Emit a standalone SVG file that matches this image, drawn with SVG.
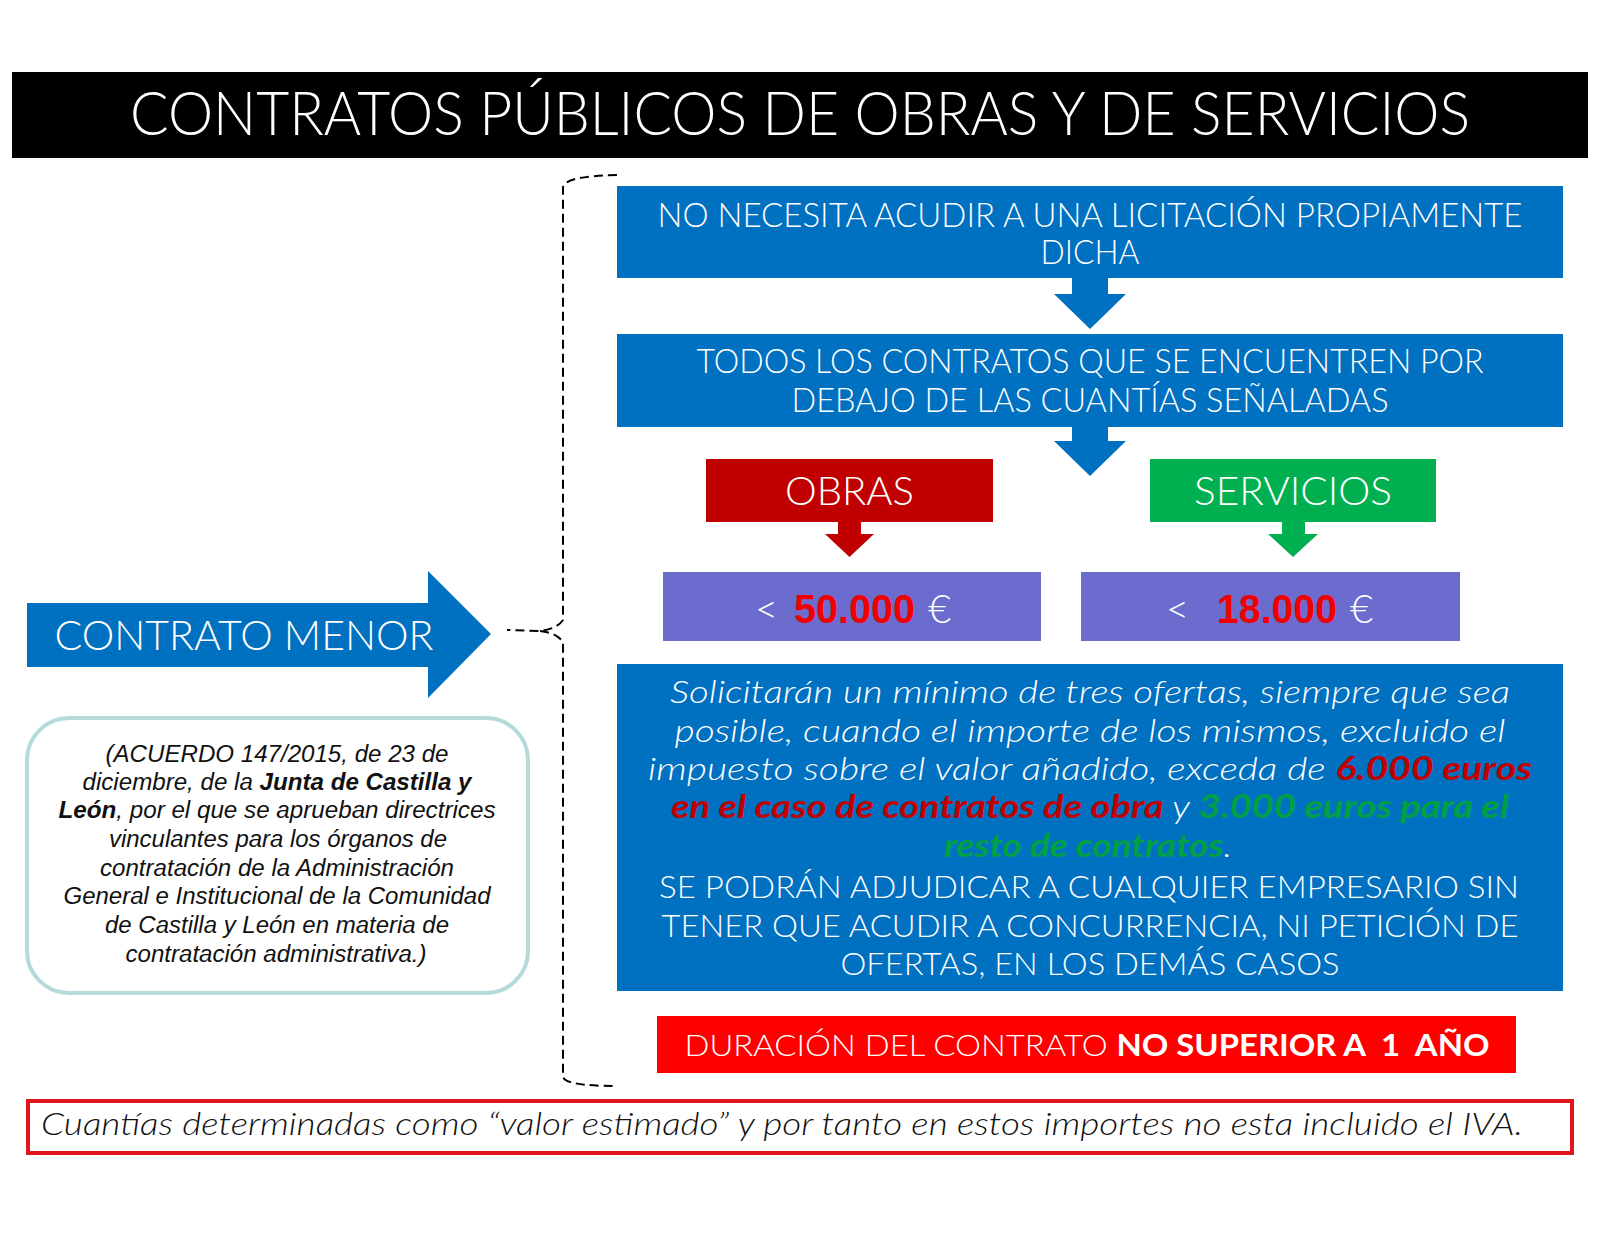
<svg xmlns="http://www.w3.org/2000/svg" width="1600" height="1237" viewBox="0 0 1600 1237">
<style>
.g{font-family:Lato,"Open Sans","Liberation Sans",sans-serif;font-weight:300;fill:#fff}
.gi{font-family:Lato,"Open Sans","Liberation Sans",sans-serif;font-weight:300;font-style:italic;fill:#fff}
.b{font-weight:700}
.note{font-family:"Liberation Sans",Arial,sans-serif;font-style:italic;font-size:23px;fill:#111}
.blue{fill:#0070C0}
.purple{fill:#6C6CCE}
.dash{fill:none;stroke:#000;stroke-width:2;stroke-dasharray:9,5}
</style>
<rect width="1600" height="1237" fill="#fff"/>

<g id="title">
<rect x="12" y="72" width="1576" height="86" fill="#000"/>
<text class="g" x="800" y="135" font-size="61" text-anchor="middle" textLength="1340" lengthAdjust="spacingAndGlyphs">CONTRATOS PÚBLICOS DE OBRAS Y DE SERVICIOS</text>
</g>

<g id="connectors">
<path class="dash" d="M617,175 Q563,176 563,188 L563,620 Q557,629 540,631 L507,630 M540,631 Q557,633 563,642 L563,1076 Q563,1086 617,1086"/>
<polygon class="blue" points="1072,278 1108,278 1108,294 1126,294 1090,329 1054,294 1072,294"/>
<polygon class="blue" points="1072,427 1108,427 1108,441 1126,441 1090,476 1054,441 1072,441"/>
<polygon fill="#C00000" points="838,522 861,522 861,534 874,534 849.5,557 825,534 838,534"/>
<polygon fill="#00B050" points="1282,522 1305,522 1305,534 1318,534 1293,557 1268,534 1282,534"/>
</g>

<g id="contrato-menor">
<polygon class="blue" points="27,603 428,603 428,571 491,634 428,698 428,667 27,667"/>
<text class="g" x="244" y="650" font-size="42" text-anchor="middle" textLength="379" lengthAdjust="spacingAndGlyphs">CONTRATO MENOR</text>
</g>

<g id="acuerdo">
<rect x="27" y="718" width="501" height="275" rx="42" fill="#fff" stroke="#B5DADC" stroke-width="4"/>
<text class="note" x="277" y="762" text-anchor="middle" textLength="343" lengthAdjust="spacingAndGlyphs">(ACUERDO 147/2015, de 23 de</text>
<text class="note" x="277" y="790" text-anchor="middle" textLength="389" lengthAdjust="spacingAndGlyphs">diciembre, de la <tspan font-weight="bold">Junta de Castilla y</tspan></text>
<text class="note" x="277" y="818" text-anchor="middle" textLength="437" lengthAdjust="spacingAndGlyphs"><tspan font-weight="bold">León</tspan>, por el que se aprueban directrices</text>
<text class="note" x="278" y="847" text-anchor="middle" textLength="338" lengthAdjust="spacingAndGlyphs">vinculantes para los órganos de</text>
<text class="note" x="277" y="876" text-anchor="middle" textLength="354" lengthAdjust="spacingAndGlyphs">contratación de la Administración</text>
<text class="note" x="277" y="904" text-anchor="middle" textLength="427" lengthAdjust="spacingAndGlyphs">General e Institucional de la Comunidad</text>
<text class="note" x="277" y="933" text-anchor="middle" textLength="344" lengthAdjust="spacingAndGlyphs">de Castilla y León en materia de</text>
<text class="note" x="276" y="962" text-anchor="middle" textLength="301" lengthAdjust="spacingAndGlyphs">contratación administrativa.)</text>
</g>

<g id="no-licitacion">
<rect class="blue" x="617" y="186" width="946" height="92"/>
<text class="g" x="1090" y="227" font-size="33" text-anchor="middle" textLength="865" lengthAdjust="spacingAndGlyphs">NO NECESITA ACUDIR A UNA LICITACIÓN PROPIAMENTE</text>
<text class="g" x="1090" y="264" font-size="33" text-anchor="middle" textLength="99" lengthAdjust="spacingAndGlyphs">DICHA</text>
</g>

<g id="todos">
<rect class="blue" x="617" y="334" width="946" height="93"/>
<text class="g" x="1090" y="373" font-size="33" text-anchor="middle" textLength="787" lengthAdjust="spacingAndGlyphs">TODOS LOS CONTRATOS QUE SE ENCUENTREN POR</text>
<text class="g" x="1090" y="412" font-size="33" text-anchor="middle" textLength="597" lengthAdjust="spacingAndGlyphs">DEBAJO DE LAS CUANTÍAS SEÑALADAS</text>
</g>

<g id="obras">
<rect x="706" y="459" width="287" height="63" fill="#C00000"/>
<text class="g" x="849.5" y="505" font-size="39" text-anchor="middle" textLength="129" lengthAdjust="spacingAndGlyphs">OBRAS</text>
</g>

<g id="servicios">
<rect x="1150" y="459" width="286" height="63" fill="#00B050"/>
<text class="g" x="1293" y="505" font-size="39" text-anchor="middle" textLength="198" lengthAdjust="spacingAndGlyphs">SERVICIOS</text>
</g>

<g id="limite-obras">
<rect class="purple" x="663" y="572" width="378" height="69"/>
<text class="g" x="755" y="623" font-size="40">&lt;</text>
<text x="794" y="623" font-size="40" font-family="'Liberation Sans',Arial,sans-serif" font-weight="bold" fill="#F00000" textLength="121" lengthAdjust="spacingAndGlyphs">50.000</text>
<text class="g" x="928" y="623" font-size="40">€</text>
</g>

<g id="limite-servicios">
<rect class="purple" x="1081" y="572" width="379" height="69"/>
<text class="g" x="1166" y="623" font-size="40">&lt;</text>
<text x="1217" y="623" font-size="40" font-family="'Liberation Sans',Arial,sans-serif" font-weight="bold" fill="#F00000" textLength="120" lengthAdjust="spacingAndGlyphs">18.000</text>
<text class="g" x="1350" y="623" font-size="40">€</text>
</g>

<g id="ofertas">
<rect class="blue" x="617" y="664" width="946" height="327"/>
<text class="gi" x="1090" y="703" font-size="32" text-anchor="middle" textLength="840" lengthAdjust="spacingAndGlyphs">Solicitarán un mínimo de tres ofertas, siempre que sea</text>
<text class="gi" x="1090" y="742" font-size="32" text-anchor="middle" textLength="831" lengthAdjust="spacingAndGlyphs">posible, cuando el importe de los mismos, excluido el</text>
<text class="gi" x="1090" y="780" font-size="32" text-anchor="middle" textLength="884" lengthAdjust="spacingAndGlyphs">impuesto sobre el valor añadido, exceda de <tspan class="b" fill="#C00000">6.000 euros</tspan></text>
<text class="gi" x="1090" y="818" font-size="32" text-anchor="middle" textLength="838" lengthAdjust="spacingAndGlyphs"><tspan class="b" fill="#C00000">en el caso de contratos de obra</tspan> y <tspan class="b" fill="#00A045">3.000 euros para el</tspan></text>
<text class="gi" x="1088" y="857" font-size="32" text-anchor="middle" textLength="288" lengthAdjust="spacingAndGlyphs"><tspan class="b" fill="#00A045">resto de contratos</tspan>.</text>
<text class="g" x="1089" y="898" font-size="32" text-anchor="middle" textLength="860" lengthAdjust="spacingAndGlyphs">SE PODRÁN ADJUDICAR A CUALQUIER EMPRESARIO SIN</text>
<text class="g" x="1090" y="937" font-size="32" text-anchor="middle" textLength="857" lengthAdjust="spacingAndGlyphs">TENER QUE ACUDIR A CONCURRENCIA, NI PETICIÓN DE</text>
<text class="g" x="1090" y="975" font-size="32" text-anchor="middle" textLength="499" lengthAdjust="spacingAndGlyphs">OFERTAS, EN LOS DEMÁS CASOS</text>
</g>

<g id="duracion">
<rect x="657" y="1016" width="859" height="57" fill="#FF0000"/>
<text class="g" x="1087" y="1056" font-size="30" text-anchor="middle" textLength="805" lengthAdjust="spacingAndGlyphs">DURACIÓN DEL CONTRATO <tspan class="b">NO SUPERIOR A&#160; 1&#160; AÑO</tspan></text>
</g>

<g id="nota-iva">
<rect x="28" y="1101" width="1544" height="52" fill="#fff" stroke="#E0141E" stroke-width="4"/>
<text class="gi" x="41" y="1135" font-size="31" style="fill:#111" textLength="1482" lengthAdjust="spacingAndGlyphs">Cuantías determinadas como “valor estimado” y por tanto en estos importes no esta incluido el IVA.</text>
</g>
</svg>
